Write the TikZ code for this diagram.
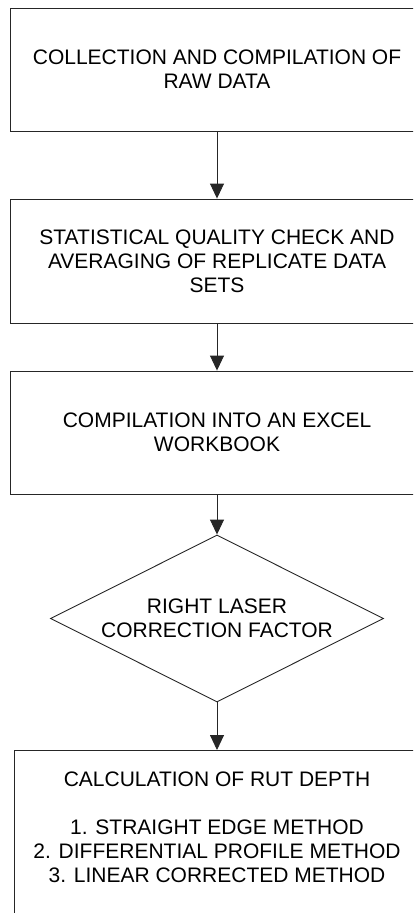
\documentclass[tikz,border=0pt]{standalone}
\usepackage{fontspec}
\setmainfont{Liberation Sans}
\usetikzlibrary{arrows.meta,shapes.geometric}
\tikzset{
  box/.style={draw=black!85, line width=0.9pt, rectangle, inner sep=0pt, align=center,
    font=\fontsize{21}{24}\selectfont},
  dia/.style={draw=black!85, line width=0.9pt, diamond, shape aspect=2, inner sep=0pt, align=center,
    font=\fontsize{21}{24}\selectfont},
  txt/.style={inner sep=0pt, align=center, font=\fontsize{21}{24}\selectfont},
  conn/.style={draw=black!85, line width=0.9pt, -{Triangle[width=14pt,length=15pt]}}
}
\begin{document}
\begin{tikzpicture}[x=1pt,y=-1pt]
\useasboundingbox (0,0) rectangle (413,913);
\clip (0,0) rectangle (413,913);
\node[box, minimum width=414pt, minimum height=123pt] (raw) at (217,69.5)
  {COLLECTION AND COMPILATION OF\\RAW DATA};
\node[box, minimum width=414pt, minimum height=124pt] (stat) at (217,261)
  {STATISTICAL QUALITY CHECK AND\\AVERAGING OF REPLICATE DATA\\SETS};
\node[box, minimum width=414pt, minimum height=123pt] (excel) at (217,432.5)
  {COMPILATION INTO AN EXCEL\\WORKBOOK};
\node[dia, minimum width=333pt, minimum height=167pt] (laser) at (217,618.5)
  {RIGHT LASER\\CORRECTION FACTOR};
\node[box, anchor=north, minimum width=406pt, minimum height=200pt] (calc) at (217,750) {};
\node[txt] (calctext) at (217,827)
  {CALCULATION OF RUT DEPTH\\[24pt]1. STRAIGHT EDGE METHOD\\2. DIFFERENTIAL PROFILE METHOD\\3. LINEAR CORRECTED METHOD};
\draw[conn] (raw.south) -- (stat.north);
\draw[conn] (stat.south) -- (excel.north);
\draw[conn] (excel.south) -- (laser.north);
\draw[conn] (laser.south) -- (calc.north);
\end{tikzpicture}
\end{document}
